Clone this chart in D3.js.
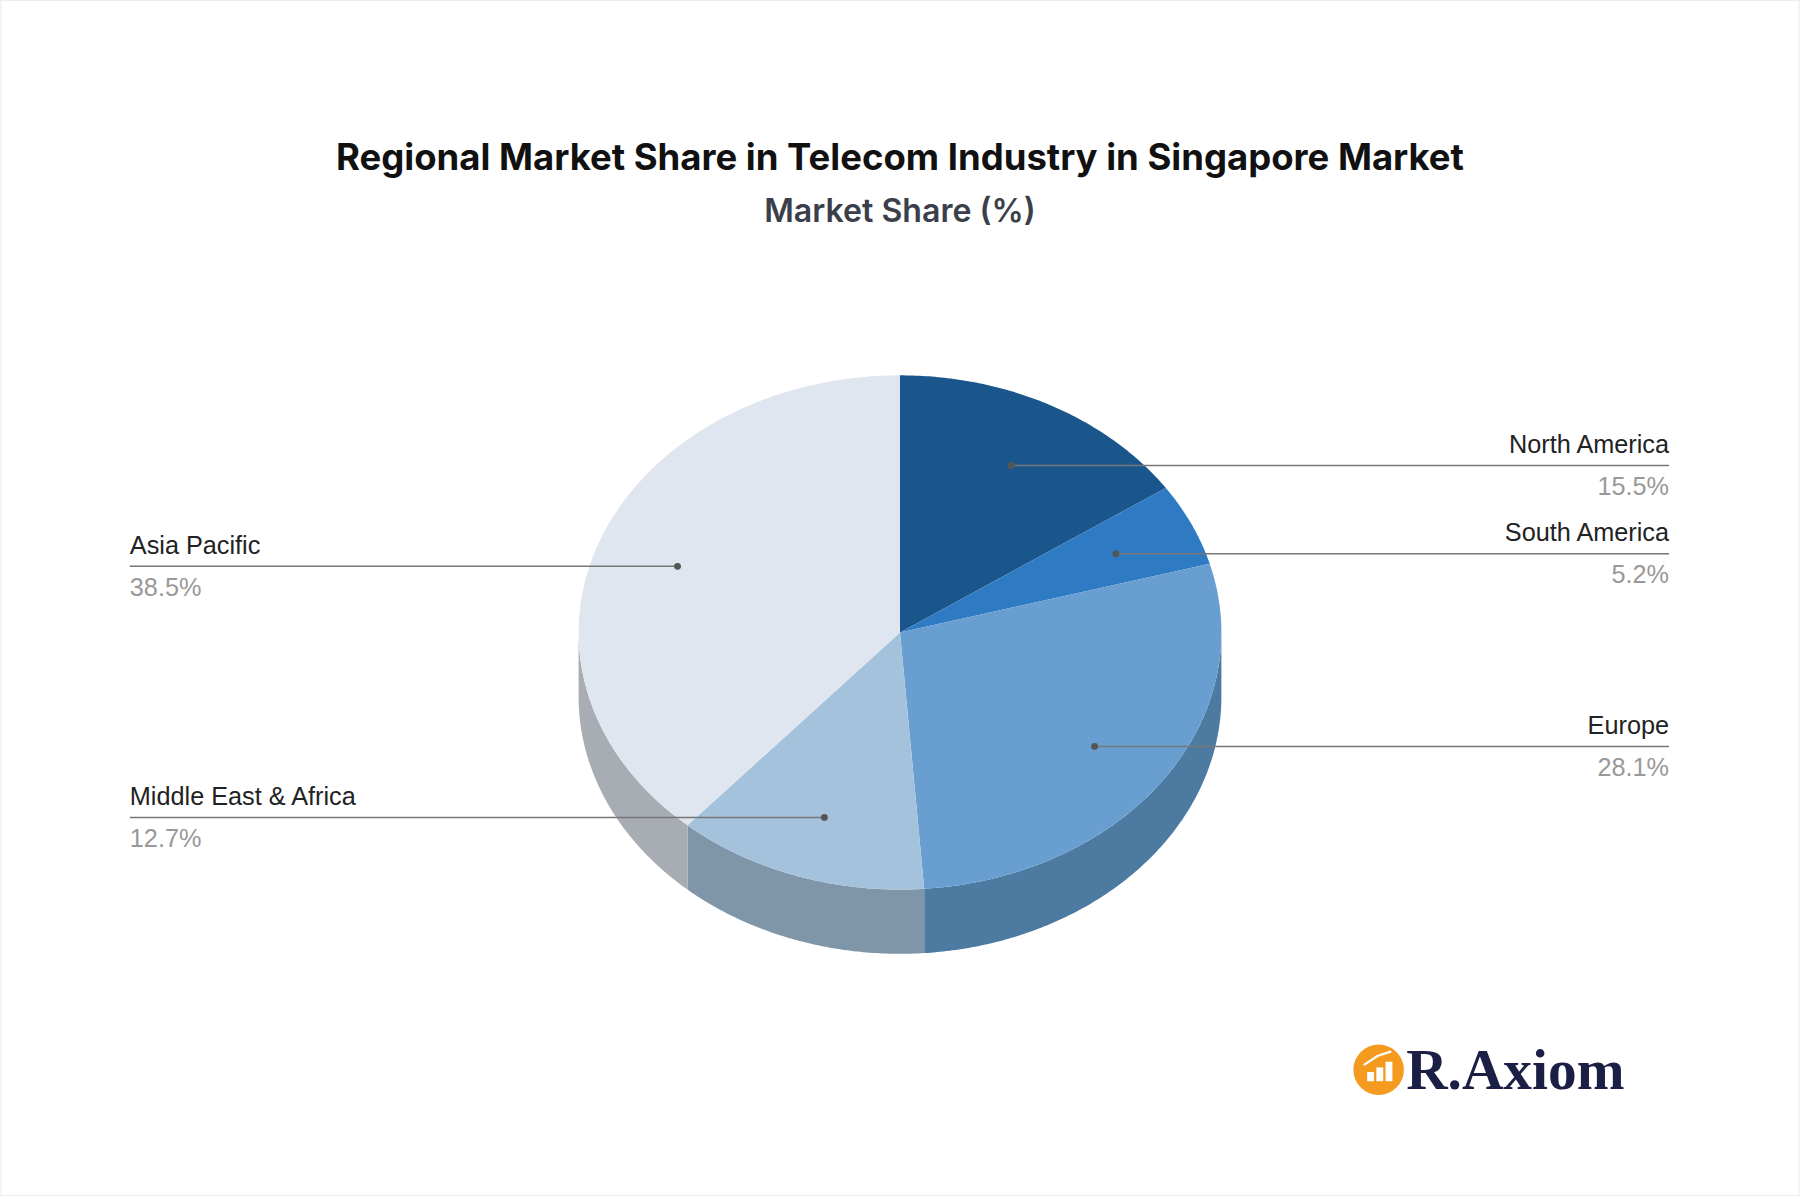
<!DOCTYPE html>
<html><head><meta charset="utf-8">
<script src="https://cdn.jsdelivr.net/npm/d3@7"></script>
<style>body{margin:0;background:#fff}</style></head>
<body><svg id="c" width="1800" height="1196" viewBox="0 0 1568 1042"></svg>
<script>
const regions=["North America","South America","Europe","Middle East & Africa","Asia Pacific"];
const shares=[15.5,5.2,28.1,12.7,38.5];
const topColors=["#1a568c","#2e7bc4","#699fd0","#a5c2dd","#dfe6ef"];
const sideColors=["#123d63","#215a8f","#4d7aa0","#7f95a8","#a7adb3"];
const svg=d3.select("#c");
svg.append("rect").attr("x",0.5).attr("y",0.5).attr("width",1567).attr("height",1041).attr("fill","#fff").attr("stroke","#eee");
svg.append("text").attr("x",784).attr("y",148).attr("text-anchor","middle").attr("font-family","Inter, Roboto, sans-serif").attr("font-weight",700).attr("font-size",31.8).attr("fill","#111").text("Regional Market Share in Telecom Industry in Singapore Market");
svg.append("text").attr("x",784).attr("y",193).attr("text-anchor","middle").attr("font-family","Inter, Roboto, sans-serif").attr("font-weight",600).attr("font-size",28).attr("fill","#3a3f4a").text("Market Share (%)");
const cx=784,cy=551,rx=280,ry=224,depth=56;
const pie=d3.pie().sort(null).value(d=>d)(shares);
const pt=(a,f=1,dy=0)=>[cx+rx*f*Math.sin(a),cy-ry*f*Math.cos(a)+dy];
function arcPts(a0,a1,dy){const n=Math.max(2,Math.ceil((a1-a0)/0.01));return d3.range(n+1).map(i=>pt(a0+(a1-a0)*i/n,1,dy));}
pie.forEach((p,i)=>{
  const a0=Math.max(p.startAngle,Math.PI/2),a1=Math.min(p.endAngle,3*Math.PI/2);
  if(a1<=a0)return;
  const top=arcPts(a0,a1,0),bot=arcPts(a0,a1,depth).reverse();
  svg.append("path").attr("d",d3.line()(top.concat(bot))+"Z").attr("fill",sideColors[i]);
});
pie.forEach((p,i)=>{
  const pts=[[cx,cy]].concat(arcPts(p.startAngle,p.endAngle,0));
  svg.append("path").attr("d",d3.line()(pts)+"Z").attr("fill",topColors[i]);
});
const font="Liberation Sans, Arial, sans-serif";
pie.forEach((p,i)=>{
  const m=(p.startAngle+p.endAngle)/2;
  const [x,y0]=pt(m,0.74);
  const y=y0+(m>Math.PI/2&&m<3*Math.PI/2?4:1);
  const right=m<Math.PI;
  const lx=right?1454:113;
  svg.append("line").attr("x1",x).attr("y1",y).attr("x2",lx).attr("y2",y).attr("stroke","#777").attr("stroke-width",1.3);
  svg.append("circle").attr("cx",x).attr("cy",y).attr("r",3).attr("fill","#555");
  const anchor=right?"end":"start";
  svg.append("text").attr("x",lx).attr("y",y-11).attr("text-anchor",anchor).attr("font-family",font).attr("font-size",22).attr("fill","#222").text(regions[i]);
  svg.append("text").attr("x",lx).attr("y",y+26).attr("text-anchor",anchor).attr("font-family",font).attr("font-size",22).attr("fill","#999").text(shares[i].toFixed(1)+"%");
});
const g=svg.append("g");
g.append("circle").attr("cx",1201).attr("cy",932).attr("r",22).attr("fill","#f39a1f");
[[1191,8],[1199,12],[1207,17]].forEach(([x,h])=>g.append("rect").attr("x",x).attr("y",942-h).attr("width",6).attr("height",h).attr("fill","#fff"));
g.append("path").attr("d","M1188 928 L1200 920 L1212 916").attr("stroke","#fff").attr("stroke-width",2).attr("fill","none");
g.append("text").attr("x",1225).attr("y",949).attr("font-family","Liberation Serif, DejaVu Serif, serif").attr("font-weight",700).attr("font-size",50).attr("fill","#1c1f45").text("R.Axiom");
</script></body></html>
